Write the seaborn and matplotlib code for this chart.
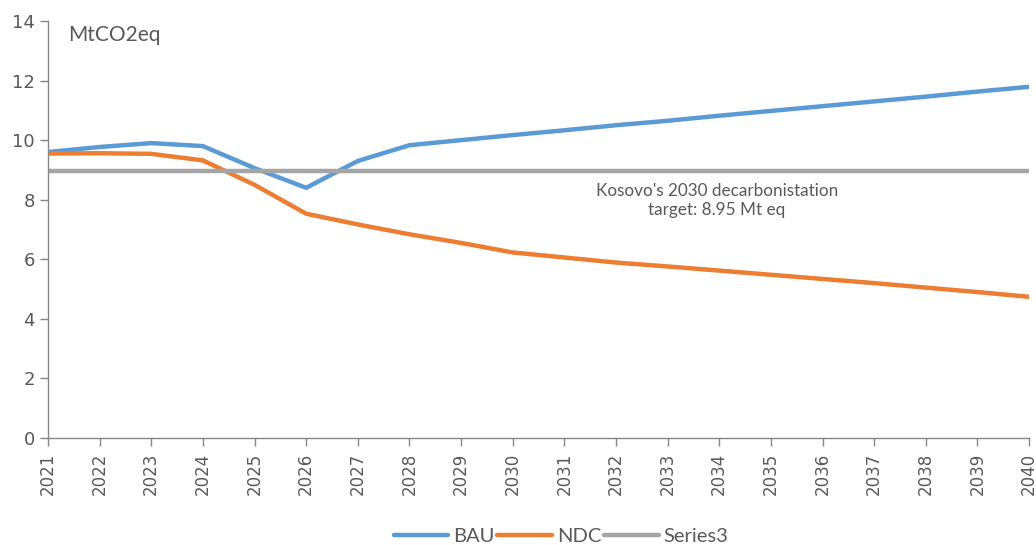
import matplotlib
matplotlib.use("Agg")
import matplotlib.pyplot as plt
import pandas as pd
import seaborn as sns

years = list(range(2021, 2041))
bau = [9.60, 9.77, 9.90, 9.80, 9.06, 8.40, 9.30, 9.83, 10.00, 10.17,
       10.33, 10.50, 10.65, 10.82, 10.98, 11.14, 11.30, 11.46, 11.63, 11.79]
ndc = [9.55, 9.56, 9.54, 9.32, 8.50, 7.53, 7.17, 6.84, 6.55, 6.23,
       6.06, 5.89, 5.76, 5.62, 5.48, 5.34, 5.20, 5.05, 4.90, 4.74]
series3 = [8.95] * len(years)
series_names = ["BAU", "NDC", "Series3"]
colors = ["#5B9BD5", "#ED7D31", "#A5A5A5"]

df = pd.DataFrame({"year": years, "BAU": bau, "NDC": ndc, "Series3": series3})
long = df.melt(id_vars="year", var_name="series", value_name="value")

sns.set_style("white")
plt.rcParams["font.family"] = ["DejaVu Sans"]
TXT = "#595959"
NARROW = ["Liberation Sans Narrow", "Lato", "DejaVu Sans"]

fig = plt.figure(figsize=(10.36, 5.45), dpi=100)
ax = fig.add_axes([0.0463, 0.1963, 0.9470, 0.7652])

sns.lineplot(data=long, x="year", y="value", hue="series", hue_order=series_names,
             palette=colors, linewidth=3.2, ax=ax, legend=True)

ax.set_xlim(2021, 2040)
ax.set_ylim(0, 14)
ax.set_xticks(years)
ax.set_xticklabels([str(y) for y in years], rotation=90, fontsize=12, color=TXT)
ax.set_yticks(range(0, 15, 2))
ax.set_yticklabels([str(v) for v in range(0, 15, 2)], fontsize=13, color=TXT)
ax.set_xlabel("")
ax.set_ylabel("")

for s in ["top", "right"]:
    ax.spines[s].set_visible(False)
for s in ["left", "bottom"]:
    ax.spines[s].set_color("#868686")
    ax.spines[s].set_linewidth(1)
ax.tick_params(axis="x", direction="out", length=5.5, color="#868686", width=1,
               bottom=True, pad=5)
ax.tick_params(axis="y", direction="out", length=5.5, color="#868686", width=1,
               left=True, pad=4)
ax.grid(False)

ax.text(2021.4, 13.88, "MtCO2eq", fontsize=15, color=TXT, va="top", ha="left",
        family=NARROW)
ax.text(2033.95, 7.97, "Kosovo's 2030 decarbonistation\ntarget: 8.95 Mt eq",
        fontsize=12.3, color=TXT, ha="center", va="center", family=NARROW,
        linespacing=1.2)

handles, labels = ax.get_legend_handles_labels()
leg = ax.legend(handles, labels, loc="center", bbox_to_anchor=(0.523, -0.237),
                ncol=3, frameon=False, handlelength=2.7, columnspacing=0.15,
                handletextpad=0.25, borderpad=0.05, borderaxespad=0,
                prop={"family": NARROW, "size": 14.5})
for t in leg.get_texts():
    t.set_color(TXT)

fig.savefig("out.png", dpi=100)
